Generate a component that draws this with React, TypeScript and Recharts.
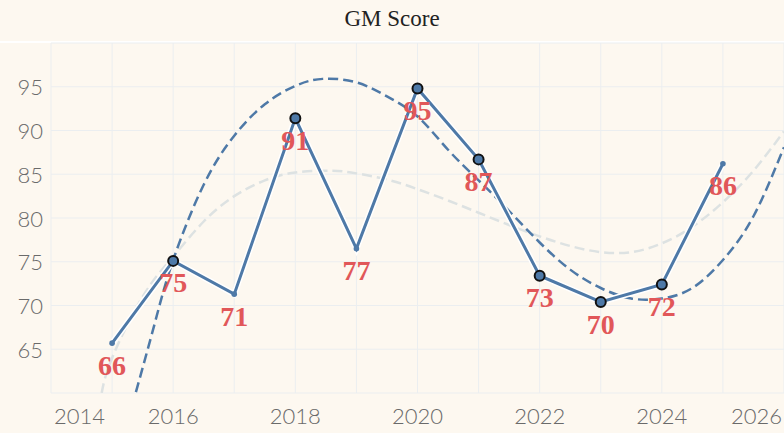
import React from "react";
import { ComposedChart, Line, XAxis, YAxis, CartesianGrid } from "recharts";

const years = [2015, 2016, 2017, 2018, 2019, 2020, 2021, 2022, 2023, 2024, 2025];
const scores = [65.7, 75.1, 71.3, 91.4, 76.5, 94.8, 86.7, 73.4, 70.4, 72.4, 86.2];
const highlighted = [false, true, false, true, false, true, true, true, true, true, false];

const cubicYears = [2015.39, 2015.7, 2016, 2016.5, 2017, 2017.5, 2018, 2018.45, 2019, 2019.5, 2020, 2020.5, 2021, 2021.5, 2022, 2022.5, 2023, 2023.5, 2024, 2024.5, 2025, 2025.5, 2026];
const cubicValues = [60.1, 68.0, 75.2, 83.8, 89.4, 93.0, 95.1, 95.9, 95.5, 93.9, 91.6, 87.8, 84.3, 80.8, 77.2, 74.1, 72.0, 70.8, 70.8, 72.0, 75.2, 80.2, 88.1];

const quadYears = [2014.83, 2015, 2015.5, 2016, 2016.5, 2017, 2017.5, 2018, 2018.6, 2019, 2019.5, 2020, 2020.5, 2021, 2021.5, 2022, 2022.5, 2023, 2023.5, 2024, 2024.5, 2025, 2025.5, 2026];
const quadValues = [60.0, 64.0, 71.0, 75.6, 79.6, 82.5, 84.3, 85.2, 85.4, 85.1, 84.4, 83.3, 82.0, 80.6, 79.2, 77.9, 76.8, 76.1, 76.1, 77.1, 79.0, 81.8, 85.4, 89.9];

const xTicks = [2014, 2015, 2016, 2017, 2018, 2019, 2020, 2021, 2022, 2023, 2024, 2025, 2026];
const yTicks = [60, 65, 70, 75, 80, 85, 90, 95, 100];

const mainData = years.map((year, i) => ({ year, value: scores[i], hl: highlighted[i] }));
const cubicData = cubicYears.map((year, i) => ({ year, value: cubicValues[i] }));
const quadData = quadYears.map((year, i) => ({ year, value: quadValues[i] }));

const BLUE = "#4e79a7";
const RED = "#e15759";
const BG = "#fdf8f0";
const TICK = "#6a6a6a";
const TICK_FONT = "Lato, 'Open Sans', sans-serif";
const SERIF = "'Liberation Serif', 'Times New Roman', serif";

const XTick = (props: any) => {
  const { x, y, payload } = props;
  const v = payload.value;
  if (v % 2 !== 0) return <g />;
  let anchor: "start" | "middle" | "end" = "middle";
  let tx = x;
  if (v === xTicks[0]) { anchor = "start"; tx = x + 3; }
  if (v === xTicks[xTicks.length - 1]) { anchor = "end"; tx = x - 2; }
  return (
    <text x={tx} y={y + 14} textAnchor={anchor} dominantBaseline="central" fill={TICK} fontSize={22} fontWeight={300} fontFamily={TICK_FONT}>
      {v}
    </text>
  );
};

const YTick = (props: any) => {
  const { x, y, payload } = props;
  const v = payload.value;
  if (v <= 60 || v >= 100) return <g />;
  return (
    <text x={x} y={y} textAnchor="end" dominantBaseline="central" fill={TICK} fontSize={22} fontWeight={300} fontFamily={TICK_FONT}>
      {v}
    </text>
  );
};

const renderDot = (props: any) => {
  const { cx, cy, payload, index } = props;
  if (payload.hl) {
    return <circle key={`d${index}`} cx={cx} cy={cy} r={5} fill={BLUE} stroke="#111" strokeWidth={2} />;
  }
  return <circle key={`d${index}`} cx={cx} cy={cy} r={2.8} fill={BLUE} stroke="none" />;
};

const renderLabel = (props: any) => {
  const { x, y, value, index } = props;
  return (
    <text key={`l${index}`} x={x} y={y + 22} textAnchor="middle" dominantBaseline="central" fill={RED} fontSize={28} fontWeight="bold" fontFamily={SERIF}>
      {Math.round(value)}
    </text>
  );
};

export default function App() {
  return (
    <div style={{ position: "absolute", left: 0, top: 0, width: 784, height: 433, background: BG, overflow: "hidden" }}>
      <div style={{ position: "absolute", left: 0, top: 0, width: 784, height: 37, display: "flex", alignItems: "center", justifyContent: "center", fontFamily: SERIF, fontSize: 23, color: "#222" }}>
        GM Score
      </div>
      <div style={{ position: "absolute", left: 0, top: 41, width: 784, height: 2, background: "#ffffff" }} />
      <div style={{ position: "absolute", left: 0, top: 0 }}>
        <ComposedChart width={784} height={433} margin={{ top: 43, right: 0, bottom: 0, left: 0 }}>
          <CartesianGrid stroke="#ebeef0" strokeWidth={1} />
          <XAxis dataKey="year" type="number" domain={[2014, 2026]} ticks={xTicks} allowDataOverflow axisLine={false} tickLine={false} height={40} tick={<XTick />} interval={0} />
          <YAxis type="number" domain={[60, 100]} ticks={yTicks} allowDataOverflow axisLine={false} tickLine={false} width={51} tick={<YTick />} interval={0} />
          <Line data={quadData} dataKey="value" type="natural" stroke="#dde2e2" strokeWidth={2.5} strokeDasharray="10 5" dot={false} activeDot={false} isAnimationActive={false} />
          <Line data={cubicData} dataKey="value" type="natural" stroke={BLUE} strokeWidth={2.5} strokeDasharray="10 5" dot={false} activeDot={false} isAnimationActive={false} />
          <Line data={mainData} dataKey="value" type="linear" stroke="#ffffff" strokeWidth={6} dot={false} activeDot={false} isAnimationActive={false} />
          <Line data={mainData} dataKey="value" type="linear" stroke={BLUE} strokeWidth={3} dot={renderDot} activeDot={false} label={renderLabel} isAnimationActive={false} />
        </ComposedChart>
      </div>
    </div>
  );
}
